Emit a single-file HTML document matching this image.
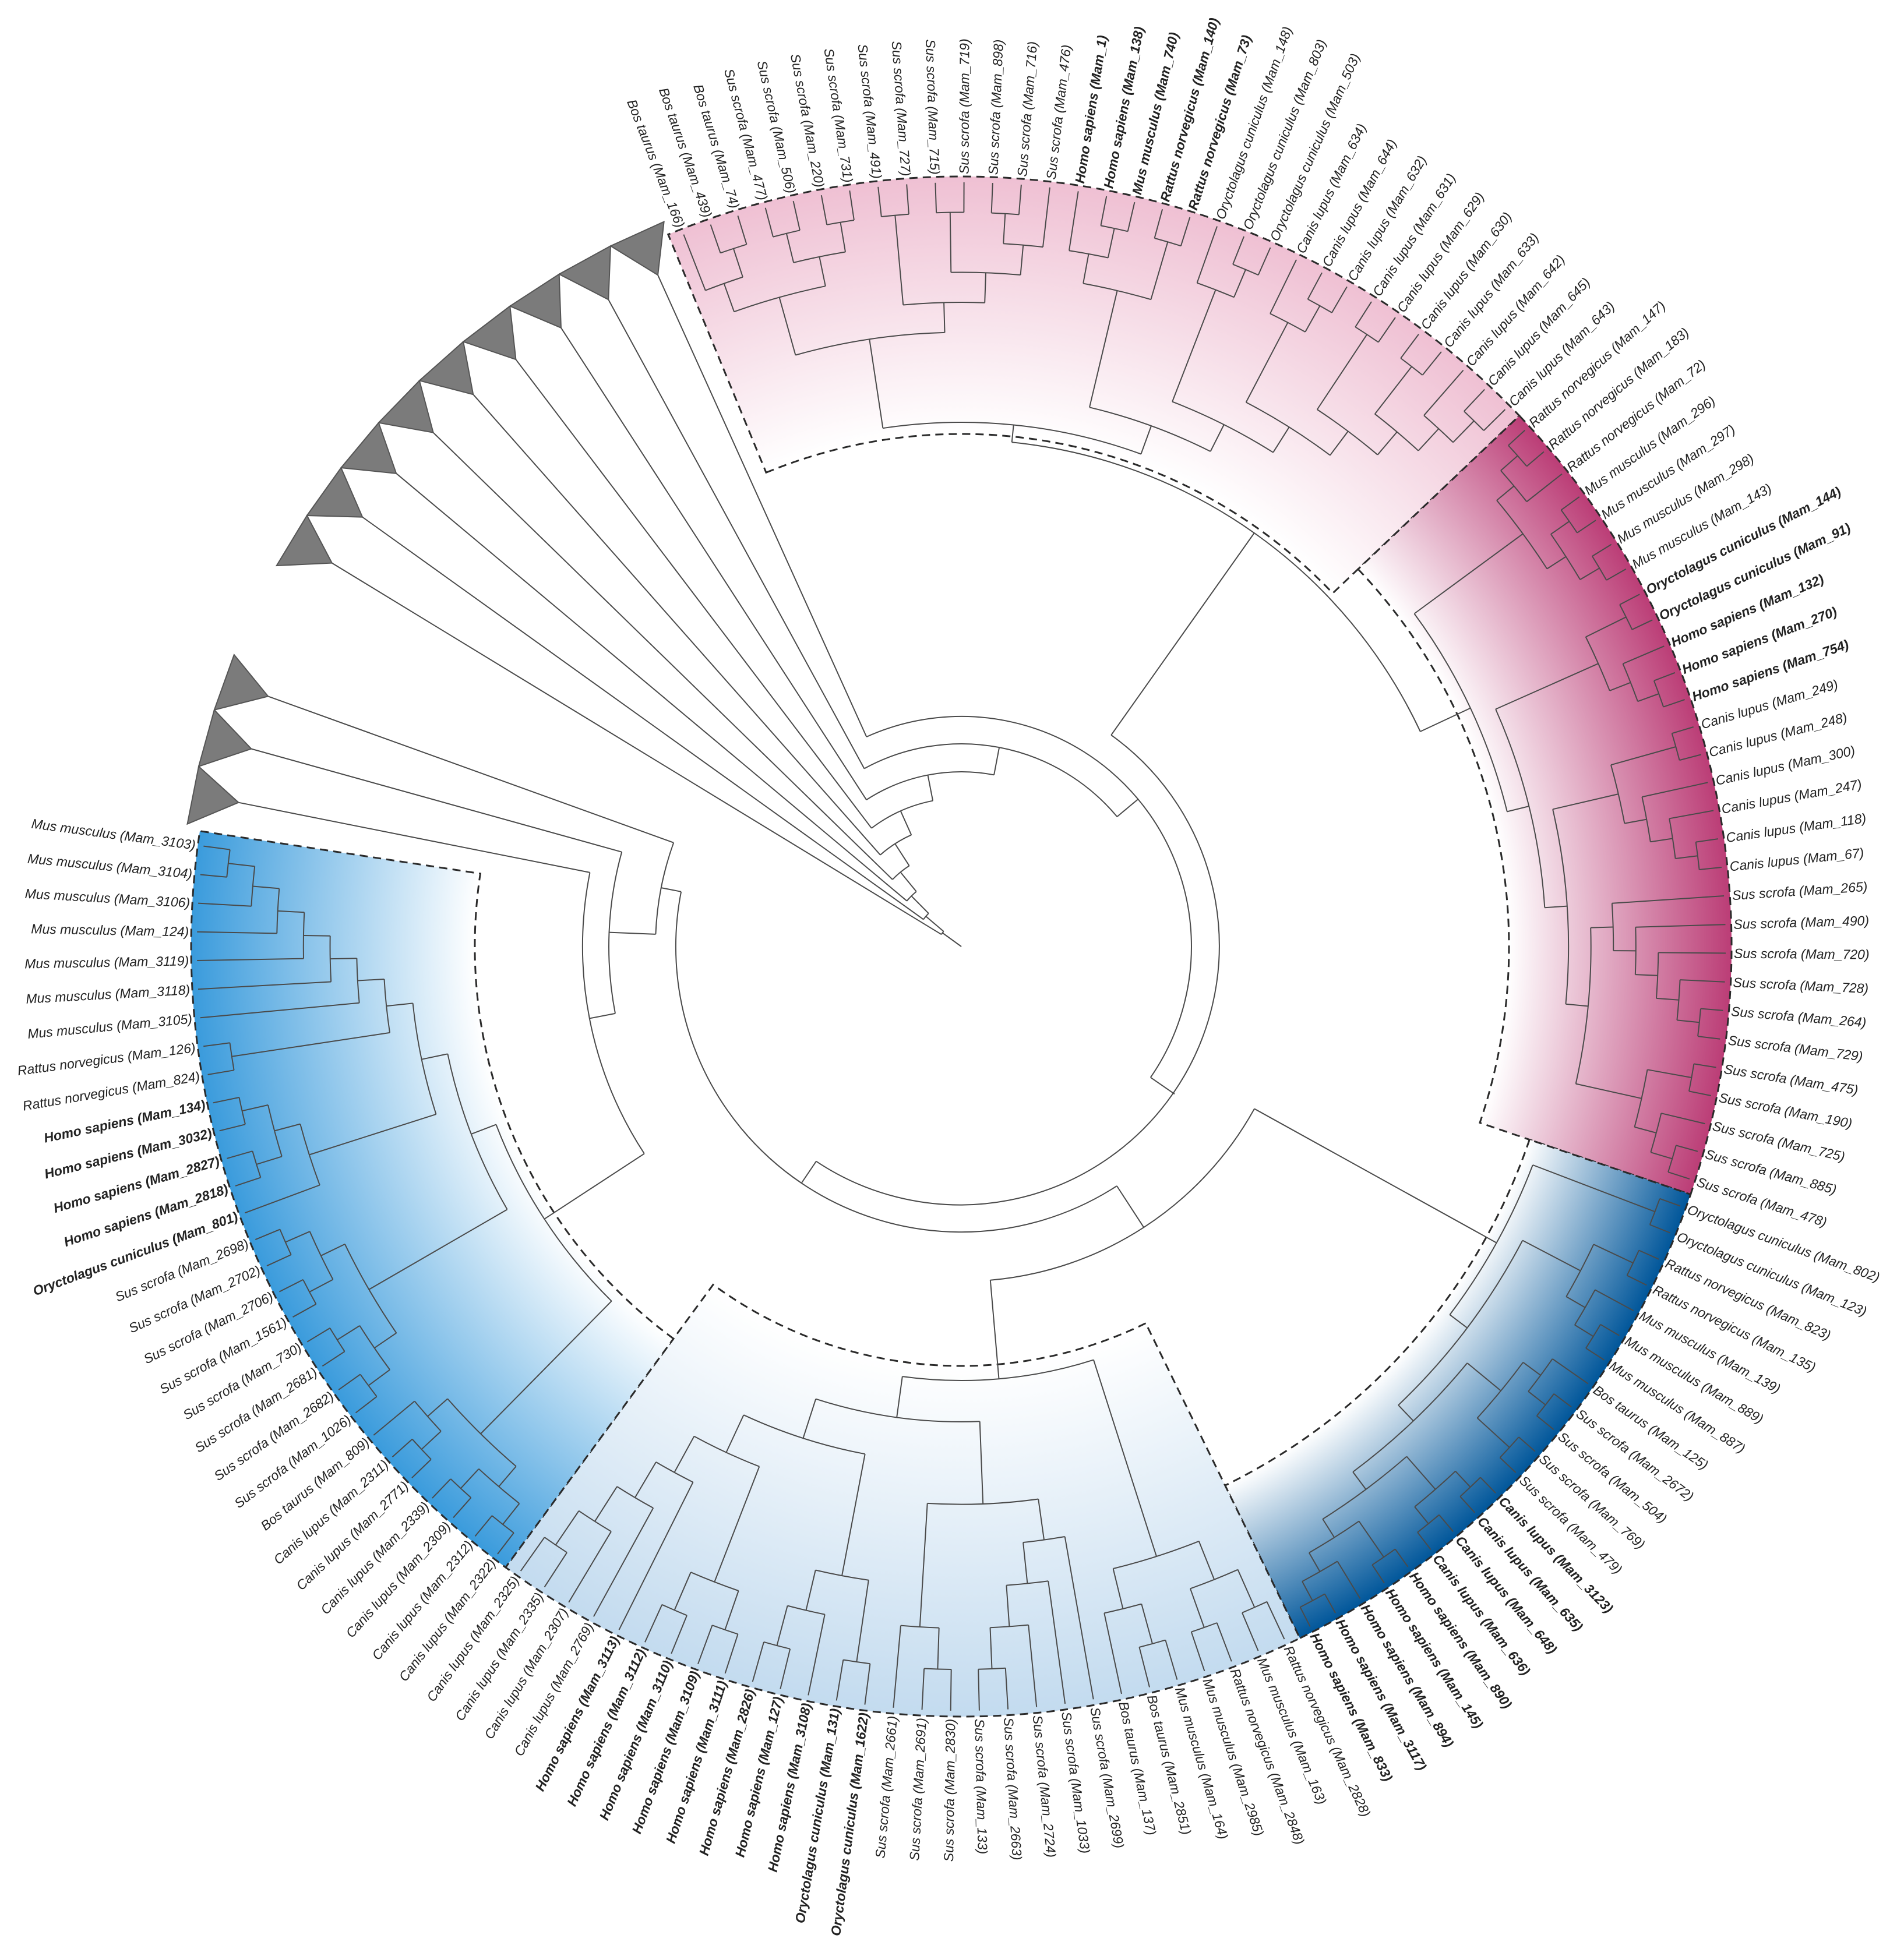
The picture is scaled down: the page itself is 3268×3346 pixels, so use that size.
<!DOCTYPE html>
<html><head><meta charset="utf-8">
<style>
html,body{margin:0;padding:0;background:#fff;}
svg{display:block;}
text{font-family:"Liberation Sans",sans-serif;font-style:italic;font-size:23px;fill:#222;}
</style></head>
<body>
<svg id="tree" xmlns="http://www.w3.org/2000/svg" width="3268" height="3346" viewBox="0 0 3268 3346">
<rect x="0" y="0" width="3268" height="3346" fill="#fff"/>
<defs id="defs"></defs>
<g id="regions"></g>
<g id="branches"></g>
<g id="labels"></g>
</svg>
<script>
// ---- data ----
const leafNames = [
"Bos taurus (Mam_166)","Bos taurus (Mam_439)","Bos taurus (Mam_74)","Sus scrofa (Mam_477)","Sus scrofa (Mam_506)","Sus scrofa (Mam_220)","Sus scrofa (Mam_731)","Sus scrofa (Mam_491)","Sus scrofa (Mam_727)","Sus scrofa (Mam_715)","Sus scrofa (Mam_719)","Sus scrofa (Mam_898)","Sus scrofa (Mam_716)","Sus scrofa (Mam_476)","Homo sapiens (Mam_1)","Homo sapiens (Mam_138)","Mus musculus (Mam_740)","Rattus norvegicus (Mam_140)","Rattus norvegicus (Mam_73)","Oryctolagus cuniculus (Mam_148)","Oryctolagus cuniculus (Mam_803)","Oryctolagus cuniculus (Mam_503)","Canis lupus (Mam_634)","Canis lupus (Mam_644)","Canis lupus (Mam_632)","Canis lupus (Mam_631)","Canis lupus (Mam_629)","Canis lupus (Mam_630)","Canis lupus (Mam_633)","Canis lupus (Mam_642)","Canis lupus (Mam_645)","Canis lupus (Mam_643)",
"Rattus norvegicus (Mam_147)","Rattus norvegicus (Mam_183)","Rattus norvegicus (Mam_72)","Mus musculus (Mam_296)","Mus musculus (Mam_297)","Mus musculus (Mam_298)","Mus musculus (Mam_143)","Oryctolagus cuniculus (Mam_144)","Oryctolagus cuniculus (Mam_91)","Homo sapiens (Mam_132)","Homo sapiens (Mam_270)","Homo sapiens (Mam_754)","Canis lupus (Mam_249)","Canis lupus (Mam_248)","Canis lupus (Mam_300)","Canis lupus (Mam_247)","Canis lupus (Mam_118)","Canis lupus (Mam_67)","Sus scrofa (Mam_265)","Sus scrofa (Mam_490)","Sus scrofa (Mam_720)","Sus scrofa (Mam_728)","Sus scrofa (Mam_264)","Sus scrofa (Mam_729)","Sus scrofa (Mam_475)","Sus scrofa (Mam_190)","Sus scrofa (Mam_725)","Sus scrofa (Mam_885)","Sus scrofa (Mam_478)",
"Oryctolagus cuniculus (Mam_802)","Oryctolagus cuniculus (Mam_123)","Rattus norvegicus (Mam_823)","Rattus norvegicus (Mam_135)","Mus musculus (Mam_139)","Mus musculus (Mam_889)","Mus musculus (Mam_887)","Bos taurus (Mam_125)","Sus scrofa (Mam_2672)","Sus scrofa (Mam_504)","Sus scrofa (Mam_769)","Sus scrofa (Mam_479)","Canis lupus (Mam_3123)","Canis lupus (Mam_635)","Canis lupus (Mam_648)","Canis lupus (Mam_636)","Homo sapiens (Mam_890)","Homo sapiens (Mam_145)","Homo sapiens (Mam_894)","Homo sapiens (Mam_3117)","Homo sapiens (Mam_833)",
"Rattus norvegicus (Mam_2828)","Mus musculus (Mam_163)","Rattus norvegicus (Mam_2848)","Mus musculus (Mam_2985)","Mus musculus (Mam_164)","Bos taurus (Mam_2851)","Bos taurus (Mam_137)","Sus scrofa (Mam_2699)","Sus scrofa (Mam_1033)","Sus scrofa (Mam_2724)","Sus scrofa (Mam_2663)","Sus scrofa (Mam_133)","Sus scrofa (Mam_2830)","Sus scrofa (Mam_2691)","Sus scrofa (Mam_2661)","Oryctolagus cuniculus (Mam_1622)","Oryctolagus cuniculus (Mam_131)","Homo sapiens (Mam_3108)","Homo sapiens (Mam_127)","Homo sapiens (Mam_2826)","Homo sapiens (Mam_3111)","Homo sapiens (Mam_3109)","Homo sapiens (Mam_3110)","Homo sapiens (Mam_3112)","Homo sapiens (Mam_3113)","Canis lupus (Mam_2769)","Canis lupus (Mam_2307)","Canis lupus (Mam_2335)","Canis lupus (Mam_2325)",
"Canis lupus (Mam_2322)","Canis lupus (Mam_2312)","Canis lupus (Mam_2309)","Canis lupus (Mam_2339)","Canis lupus (Mam_2771)","Canis lupus (Mam_2311)","Bos taurus (Mam_809)","Sus scrofa (Mam_1026)","Sus scrofa (Mam_2682)","Sus scrofa (Mam_2681)","Sus scrofa (Mam_730)","Sus scrofa (Mam_1561)","Sus scrofa (Mam_2706)","Sus scrofa (Mam_2702)","Sus scrofa (Mam_2698)","Oryctolagus cuniculus (Mam_801)","Homo sapiens (Mam_2818)","Homo sapiens (Mam_2827)","Homo sapiens (Mam_3032)","Homo sapiens (Mam_134)","Rattus norvegicus (Mam_824)","Rattus norvegicus (Mam_126)","Mus musculus (Mam_3105)","Mus musculus (Mam_3118)","Mus musculus (Mam_3119)","Mus musculus (Mam_124)","Mus musculus (Mam_3106)","Mus musculus (Mam_3104)","Mus musculus (Mam_3103)"
];
const boldLeaves = [14,15,16,17,18,39,40,41,42,43,73,74,75,76,77,78,79,80,81,97,98,99,100,101,102,103,104,105,106,126,127,128,129,130];
const cladeStart = [0,32,61,82,111];
const cladeEnd = [31,60,81,110,139];
const cladeInner = [880,940,1030,720,835];
const cladeRootR = [900,965,1050,745,855];
const cladeColor = ["#efc0d3","#bb3d76","#00569a","#c3dbef","#3a9bdc"];
const cladeTrees = [
 [[[[0,[1,2]],[[3,4],[5,6]]],[[7,8],[[9,10],[[11,12],13]]]],[[[14,[15,16]],[17,18]],[[19,[20,21]],[[22,[23,24]],[[25,26],[[27,28],[29,[30,31]]]]]]]],
 [[[[0,1],2],[[3,4],[5,6]]],[[[7,8],[9,[10,11]]],[[[12,13],[14,[15,[16,17]]]],[[18,[19,[20,[21,[22,23]]]]],[[24,25],[26,[27,28]]]]]]],
 [[0,1],[[[2,3],[4,[5,6]]],[[[7,[8,9]],[10,11]],[[[12,13],[14,15]],[[16,17],[18,[19,20]]]]]]],
 [[[[0,1],[2,3]],[[4,5],6]],[[[7,[8,[9,[10,11]]]],[[12,13],14]],[[[15,16],[17,[18,19]]],[[[20,21],[22,23]],[24,[25,[26,[27,28]]]]]]]],
 [[[[0,1],[2,3]],[[4,5],6]],[[[[7,8],[9,10]],[[11,12],[13,14]]],[[15,[[16,17],[18,19]]],[[20,21],[22,[23,[24,[25,[26,[27,28]]]]]]]]]]
];
const upperTriStart = -112.3;   // degrees, collapsed clades (upper group)
const upperTriCount = 9;
const lowerTriStart = 189.0;    // degrees, collapsed clades (lower group)
const lowerTriCount = 3;
const triSpan = 4.29;
const ladderRadii = [40,80,122,165,210,255,300,348,395]; // backbone node depths
const backboneR = {H:445, G:490, F:575, C:525, B:605, A:650, P:870};

// ---- geometry ----
const CX = 1650, CY = 1625, R = 1312, ROUT = 1322;
const A0 = -111.3, STEP = 2.15;
const NS = "http://www.w3.org/2000/svg";
function leafAngle(i){ return A0 + i*STEP; }
function pol(r,a){ const t=a*Math.PI/180; return [CX + r*Math.cos(t), CY + r*Math.sin(t)]; }
function pt(r,a){ const p=pol(r,a); return p[0].toFixed(1)+" "+p[1].toFixed(1); }
function arcD(r,a0,a1){ const large=(a1-a0)>180?1:0; return "M"+pt(r,a0)+" A"+r+" "+r+" 0 "+large+" 1 "+pt(r,a1); }
const gB = document.getElementById('branches');
const gR = document.getElementById('regions');
const gL = document.getElementById('labels');
const defs = document.getElementById('defs');

function line(d, name){
  const el = document.createElementNS(NS,'path');
  el.setAttribute('d', d);
  el.setAttribute('fill','none');
  el.setAttribute('stroke','#4a4a4a');
  el.setAttribute('stroke-width','2');
  
  
  gB.appendChild(el);
  return el;
}

// ---- regions ----
for (let c=0;c<5;c++){
  const a0 = leafAngle(cladeStart[c]) - STEP/2, a1 = leafAngle(cladeEnd[c]) + STEP/2;
  const gr = document.createElementNS(NS,'radialGradient');
  gr.setAttribute('id','grad'+c);
  gr.setAttribute('gradientUnits','userSpaceOnUse');
  gr.setAttribute('cx',CX); gr.setAttribute('cy',CY); gr.setAttribute('r',ROUT);
  const s1=document.createElementNS(NS,'stop'); s1.setAttribute('offset',(cladeInner[c]/ROUT).toFixed(3)); s1.setAttribute('stop-color','#ffffff');
  const s2=document.createElementNS(NS,'stop'); s2.setAttribute('offset','1'); s2.setAttribute('stop-color',cladeColor[c]);
  gr.appendChild(s1); gr.appendChild(s2); defs.appendChild(gr);
  const large=(a1-a0)>180?1:0;
  const d = "M"+pt(cladeInner[c],a0)+" A"+cladeInner[c]+" "+cladeInner[c]+" 0 "+large+" 1 "+pt(cladeInner[c],a1)+
            " L"+pt(ROUT,a1)+" A"+ROUT+" "+ROUT+" 0 "+large+" 0 "+pt(ROUT,a0)+" Z";
  const reg = document.createElementNS(NS,'path');
  reg.setAttribute('d',d);
  reg.setAttribute('fill','url(#grad'+c+')');
  reg.setAttribute('stroke','#2a2a2a');
  reg.setAttribute('stroke-width','3');
  reg.setAttribute('stroke-dasharray','14 9');
  
  
  gR.appendChild(reg);
}

// ---- tree layout ----
function height(n){ return typeof n==='number'?0:1+Math.max(...n.map(height)); }
function layoutClade(n, off, rootR, H){
  if (typeof n==='number'){ const i=off+n; return {leaf:true, idx:i, a:leafAngle(i), r:R}; }
  const ch = n.map(x=>layoutClade(x,off,rootR,H));
  const h = height(n);
  const r = R - h*(R-rootR)/H;
  const as = ch.map(x=>x.a);
  return {r, a:(Math.min(...as)+Math.max(...as))/2, children:ch};
}
function tri(a_lo){ return {tri:true, lo:a_lo, hi:a_lo+triSpan, a:a_lo+0.53*triSpan, r:1265}; }
function node(r, children){ const as=children.map(x=>x.a); return {r, a:(Math.min(...as)+Math.max(...as))/2, children}; }

const clades = cladeTrees.map((t,c)=>layoutClade(t, cladeStart[c], cladeRootR[c], height(t)));
const upperTris = []; for (let k=0;k<upperTriCount;k++) upperTris.push(tri(upperTriStart - (k+1)*triSpan));
const lowerTris = []; for (let k=0;k<lowerTriCount;k++) lowerTris.push(tri(lowerTriStart + k*triSpan));

const P = node(backboneR.P, [clades[0], clades[1]]);
const A = node(backboneR.A, [lowerTris[0], clades[4]]);
const B = node(backboneR.B, [lowerTris[1], A]);
const C = node(backboneR.C, [lowerTris[2], B]);
const F = node(backboneR.F, [clades[2], clades[3]]);
const G = node(backboneR.G, [F, C]);
const H = node(backboneR.H, [P, G]);
let cur = H;
for (let k=0;k<upperTriCount;k++){
  cur = node(ladderRadii[upperTriCount-1-k], [upperTris[k], cur]);
}
const rootNode = cur;

function draw(n, parentR){
  line("M"+pt(parentR,n.a)+" L"+pt(n.r,n.a), n.leaf?'leaf-branch':(n.tri?'collapsed-branch':'internal-branch'));
  if (n.tri){
    const poly = document.createElementNS(NS,'polygon');
    const p1=pol(1345,n.lo), p2=pol(1345,n.hi), p3=pol(n.r,n.a);
    poly.setAttribute('points', p1.join(',')+' '+p2.join(',')+' '+p3.join(','));
    poly.setAttribute('fill','#7b7b7b');
    poly.setAttribute('stroke','#555');
    poly.setAttribute('stroke-width','2');
    
    
    gB.appendChild(poly);
    return;
  }
  if (n.children){
    const as=n.children.map(x=>x.a);
    line(arcD(n.r, Math.min(...as), Math.max(...as)), 'node-arc');
    n.children.forEach(ch=>draw(ch, n.r));
  }
}
line("M"+pt(0,rootNode.a)+" L"+pt(rootNode.r,rootNode.a), 'root-branch');
draw(rootNode, 0);

// ---- labels ----
for (let i=0;i<leafNames.length;i++){
  const a = leafAngle(i);
  const t = document.createElementNS(NS,'text');
  const right = Math.cos(a*Math.PI/180) >= 0;
  const rl = R + 14;
  if (right){
    t.setAttribute('x', CX + rl); t.setAttribute('y', CY);
    t.setAttribute('text-anchor','start');
    t.setAttribute('transform','rotate('+a.toFixed(2)+' '+CX+' '+CY+')');
  } else {
    t.setAttribute('x', CX - rl); t.setAttribute('y', CY);
    t.setAttribute('text-anchor','end');
    t.setAttribute('transform','rotate('+(a+180).toFixed(2)+' '+CX+' '+CY+')');
  }
  t.setAttribute('dominant-baseline','central');
  if (boldLeaves.includes(i)) t.setAttribute('font-weight','bold');
  t.textContent = leafNames[i];
  
  
  gL.appendChild(t);
}
</script>
</body></html>
